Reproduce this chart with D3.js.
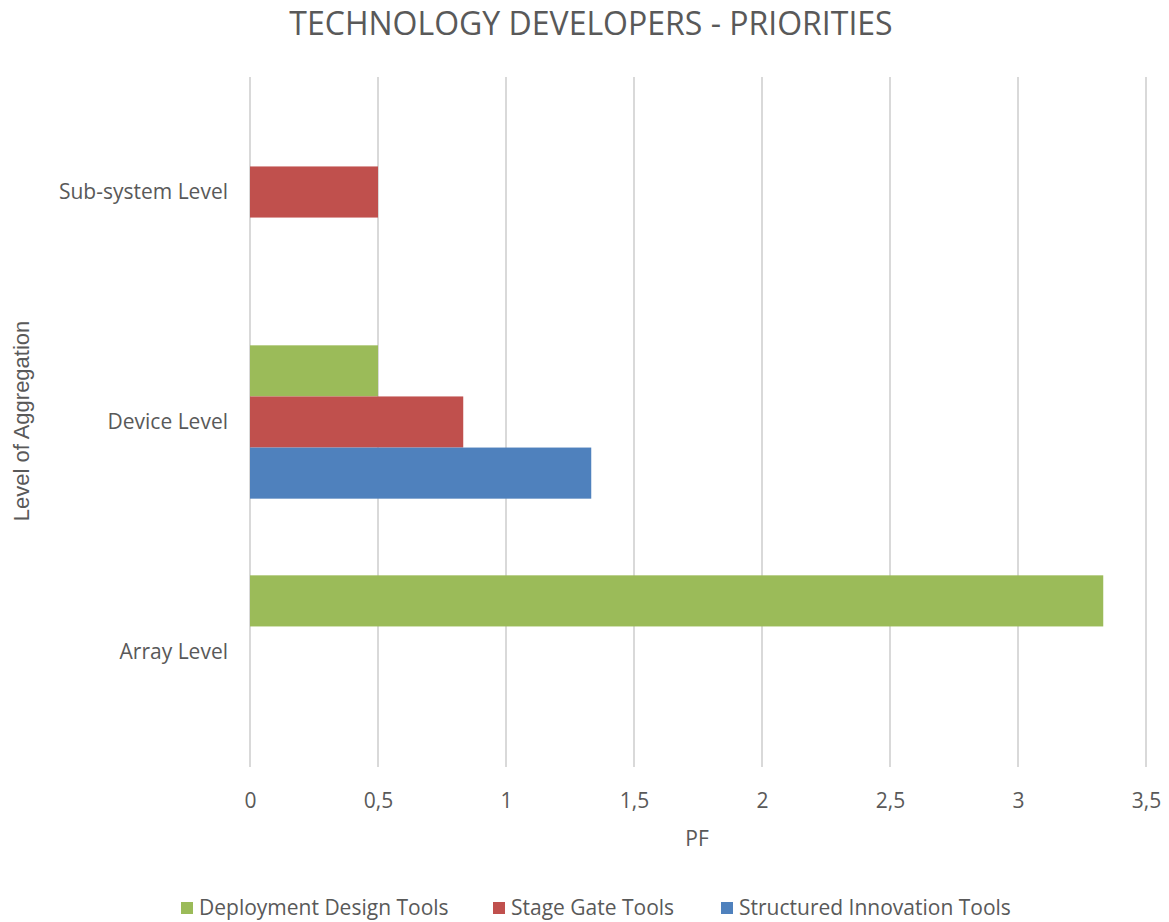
<!DOCTYPE html>
<html>
<head>
<meta charset="utf-8">
<script src="https://cdn.jsdelivr.net/npm/d3@7"></script>
<style>
  html, body { margin: 0; padding: 0; background: #fff; }
  svg { display: block; }
</style>
</head>
<body>
<svg id="chart" width="1169" height="922"></svg>
<script>
const title = "TECHNOLOGY DEVELOPERS - PRIORITIES";
const categories = ["Sub-system Level", "Device Level", "Array Level"];
const seriesNames = ["Deployment Design Tools", "Stage Gate Tools", "Structured Innovation Tools"];
const deploymentDesign = [0, 0.5, 3.333];
const stageGate = [0.5, 0.833, 0];
const structuredInnovation = [0, 1.333, 0];
const xTicks = [0, 0.5, 1, 1.5, 2, 2.5, 3, 3.5];
const xLabel = "PF";
const yLabel = "Level of Aggregation";
const colors = ["#9BBB59", "#C0504D", "#4F81BD"];

const seriesValues = [deploymentDesign, stageGate, structuredInnovation];

const W = 1169, H = 922;
const margin = { top: 77, right: 23, bottom: 155, left: 250 };
const svg = d3.select("#chart");
const textColor = "#595959";
const font = "'Open Sans', 'Noto Sans', sans-serif";

const x = d3.scaleLinear().domain([0, 3.5]).range([margin.left, W - margin.right]);
const y = d3.scaleBand().domain(categories).range([margin.top, H - margin.bottom]).paddingInner(0).paddingOuter(0);
const ySub = d3.scaleBand().domain(seriesNames).range([0, y.bandwidth()]).paddingInner(0).paddingOuter(0.75);

const locale = d3.formatLocale({ decimal: ",", thousands: ".", grouping: [3], currency: ["", "€"] });
const fmt = locale.format(".1~f");

// gridlines
svg.append("g").selectAll("line").data(xTicks).join("line")
  .attr("x1", d => x(d)).attr("x2", d => x(d))
  .attr("y1", margin.top).attr("y2", H - margin.bottom)
  .attr("stroke", "#D9D9D9").attr("stroke-width", 2);

// bars
const rows = [];
categories.forEach((c, i) => {
  seriesNames.forEach((s, j) => {
    rows.push({ cat: c, series: s, value: seriesValues[j][i], color: colors[j] });
  });
});
svg.append("g").selectAll("rect").data(rows.filter(d => d.value > 0)).join("rect")
  .attr("x", x(0))
  .attr("y", d => y(d.cat) + ySub(d.series))
  .attr("width", d => x(d.value) - x(0))
  .attr("height", ySub.bandwidth())
  .attr("fill", d => d.color);

// x axis tick labels
const xAxis = d3.axisBottom(x).tickValues(xTicks).tickFormat(fmt).tickSize(0).tickPadding(0);
const gx = svg.append("g").attr("transform", `translate(0, ${H - margin.bottom})`).call(xAxis);
gx.select(".domain").remove();
gx.selectAll("text")
  .attr("y", 41).attr("dy", 0)
  .attr("fill", textColor).style("font-family", font).style("font-size", "21px");

// y axis category labels
const yAxis = d3.axisLeft(y).tickSize(0).tickPadding(0);
const gy = svg.append("g").attr("transform", `translate(${margin.left - 22}, 0)`).call(yAxis);
gy.select(".domain").remove();
gy.selectAll("text")
  .attr("dy", "0.35em")
  .attr("fill", textColor).style("font-family", font).style("font-size", "21px");

// title
svg.append("text").attr("x", 591).attr("y", 35).attr("text-anchor", "middle")
  .attr("fill", textColor).style("font-family", font).style("font-size", "32px")
  .text(title);

// x label
svg.append("text").attr("x", 697).attr("y", 846).attr("text-anchor", "middle")
  .attr("fill", textColor).style("font-family", font).style("font-size", "21px")
  .text(xLabel);

// y label
svg.append("text").attr("transform", "translate(29, 421) rotate(-90)").attr("text-anchor", "middle")
  .attr("fill", textColor).style("font-family", "'Liberation Sans', Arial, sans-serif").style("font-size", "22px")
  .text(yLabel);

// legend
const legendX = [181, 493, 721];
const lg = svg.append("g").selectAll("g").data(seriesNames).join("g")
  .attr("transform", (d, i) => `translate(${legendX[i]}, 902)`);
lg.append("rect").attr("width", 12).attr("height", 12).attr("fill", (d, i) => colors[i]);
lg.append("text").attr("x", 18).attr("y", 13)
  .attr("fill", textColor).style("font-family", font).style("font-size", "21px")
  .text(d => d);
</script>
</body>
</html>
